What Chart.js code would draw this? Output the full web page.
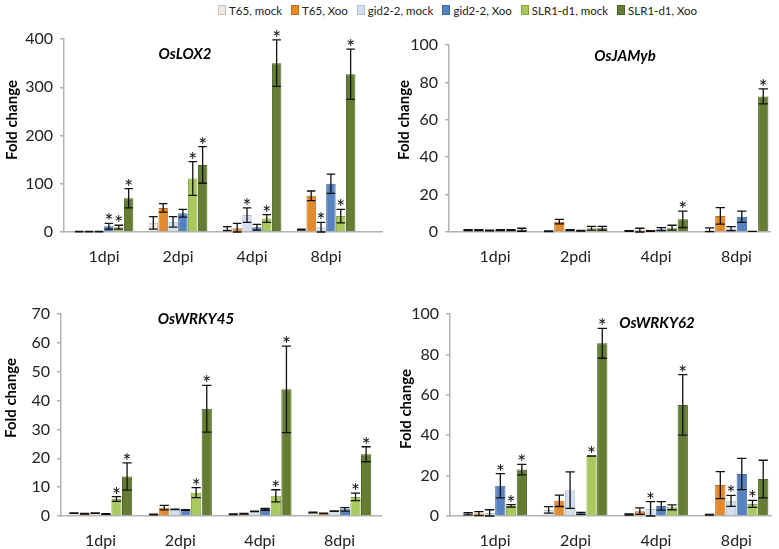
<!DOCTYPE html>
<html><head><meta charset="utf-8">
<script src="https://cdn.jsdelivr.net/npm/chart.js@4.4.1/dist/chart.umd.min.js"></script>
<style>
html,body{margin:0;padding:0;background:#fff;width:779px;height:549px;overflow:hidden;font-family:Lato,sans-serif;}
canvas{position:absolute;}
.title{position:absolute;font:italic bold 15px Lato;transform:translate(-50%,-50%);white-space:nowrap;color:#000;}
.ylab{position:absolute;font:bold 15px Lato;transform:translate(-50%,-50%) rotate(-90deg);white-space:nowrap;color:#000;}
#legend{position:absolute;top:2px;left:218px;display:flex;gap:9px;font:11.5px Lato;color:#222;align-items:center;height:16px;white-space:nowrap;}
.item{display:flex;align-items:center;}
.sw{width:6px;height:8px;margin-right:3px;border:1px solid;}
</style></head><body>
<div id="legend"></div>
<canvas id="c1" width="390" height="275" style="left:0;top:0"></canvas>
<canvas id="c2" width="389" height="275" style="left:390px;top:0"></canvas>
<canvas id="c3" width="390" height="274" style="left:0;top:275px"></canvas>
<canvas id="c4" width="389" height="274" style="left:390px;top:275px"></canvas>
<div class="title" style="left:185px;top:53px">OsLOX2</div>
<div class="title" style="left:625px;top:55px">OsJAMyb</div>
<div class="title" style="left:196px;top:318px">OsWRKY45</div>
<div class="title" style="left:657px;top:322px">OsWRKY62</div>
<div class="ylab" style="left:11px;top:120px">Fold change</div>
<div class="ylab" style="left:403px;top:120px">Fold change</div>
<div class="ylab" style="left:10px;top:398px">Fold change</div>
<div class="ylab" style="left:405px;top:409px">Fold change</div>
<script>
// ---------- data ----------
const seriesNames = ['T65, mock','T65, Xoo','gid2-2, mock','gid2-2, Xoo','SLR1-d1, mock','SLR1-d1, Xoo'];
const daysA = ['1dpi','2dpi','4dpi','8dpi'];
const daysB = ['1dpi','2pdi','4dpi','8dpi'];

// rows = series (in seriesNames order), columns = days
const lox2Mean = [
  [1, 19, 7, 5],
  [1, 50, 8, 75],
  [1, 21, 35, 10],
  [12, 39, 10, 100],
  [10, 111, 28, 33],
  [70, 139, 350, 327]
];
const lox2Err = [
  [0.5, 13, 4, 1],
  [0.5, 9, 10, 10],
  [0.5, 11, 15, 10],
  [6, 8, 6, 20],
  [4, 35, 8, 14],
  [20, 38, 48, 52]
];
const lox2Sig = [
  [0,0,0,0],[0,0,0,0],[0,0,1,1],[1,0,0,0],[1,1,1,1],[1,1,1,1]
];

const jamybMean = [
  [1, 0.4, 0.5, 1.2],
  [1, 5.5, 1, 8.6],
  [0.8, 1, 0.5, 1.8],
  [1, 0.7, 1.5, 8.2],
  [1, 2, 2.3, 0.3],
  [1.2, 2, 6.8, 72.5]
];
const jamybErr = [
  [0.2, 0.2, 0.2, 1],
  [0.2, 1.2, 1, 4.4],
  [0.2, 0.2, 0.2, 1.1],
  [0.2, 0.2, 0.8, 3],
  [0.2, 1, 1.3, 0],
  [0.8, 1, 4.4, 4]
];
const jamybSig = [
  [0,0,0,0],[0,0,0,0],[0,0,0,0],[0,0,0,0],[0,0,0,0],[0,0,1,1]
];

const wrky45Mean = [
  [1.0, 0.5, 0.6, 1.2],
  [0.8, 2.9, 0.8, 0.9],
  [1.0, 2.3, 1.6, 1.7],
  [0.7, 2.1, 2.3, 2.3],
  [5.9, 8.1, 7.0, 6.6],
  [13.7, 37.2, 43.9, 21.4]
];
const wrky45Err = [
  [0.1, 0.1, 0.1, 0.1],
  [0.1, 0.8, 0.1, 0.1],
  [0.1, 0.1, 0.1, 0.1],
  [0.1, 0.1, 0.3, 0.6],
  [0.8, 1.7, 2.1, 1.3],
  [4.7, 8.1, 15, 2.6]
];
const wrky45Sig = [
  [0,0,0,0],[0,0,0,0],[0,0,0,0],[0,0,0,0],[1,1,1,1],[1,1,1,1]
];

const wrky62Mean = [
  [1.1, 3.0, 0.8, 0.6],
  [1.2, 7.5, 2.4, 15.3],
  [1.5, 12.8, 3.5, 7.5],
  [15.0, 1.3, 5.0, 20.8],
  [5.0, 29.7, 4.3, 6.0],
  [23.0, 85.5, 55.0, 18.3]
];
const wrky62Err = [
  [0.5, 1.6, 0.3, 0.2],
  [1.0, 2.8, 1.6, 6.7],
  [1.6, 9.0, 3.6, 2.7],
  [6.0, 0.5, 2.1, 7.7],
  [0.6, 0.1, 1.2, 1.7],
  [2.6, 7.4, 15.0, 9.3]
];
const wrky62Sig = [
  [0,0,0,0],[0,0,0,0],[0,0,1,1],[1,0,0,0],[1,1,0,1],[1,1,1,0]
];

// ---------- styles ----------
const fills   = ['#eee9e4','#e38b2b','#d4dfee','#5682bf','#a9c95c','#647d32'];
const borders = ['#c9c0b8','#c06d1a','#aebfd8','#3d659f','#88a840','#4b6022'];

Chart.defaults.font.family = 'Lato, sans-serif';
Chart.defaults.color = '#222';

const errPlugin = {
  id: 'errbars',
  afterDatasetsDraw(chart) {
    const ctx = chart.ctx, ys = chart.scales.y;
    chart.data.datasets.forEach((ds, i) => {
      const meta = chart.getDatasetMeta(i);
      meta.data.forEach((bar, j) => {
        const m = ds.data[j].y, e = ds.errors[j];
        const top = ys.getPixelForValue(m + e);
        const bot = ys.getPixelForValue(Math.max(0, m - e));
        const cw = bar.width * 0.45;
        ctx.save();
        ctx.strokeStyle = '#111';
        ctx.lineWidth = 1.3;
        ctx.beginPath();
        ctx.moveTo(bar.x, top); ctx.lineTo(bar.x, bot);
        ctx.moveTo(bar.x - cw, top); ctx.lineTo(bar.x + cw, top);
        ctx.moveTo(bar.x - cw, bot); ctx.lineTo(bar.x + cw, bot);
        ctx.stroke();
        if (ds.sig[j]) {
          ctx.fillStyle = '#111';
          ctx.font = '21px Lato';
          ctx.textAlign = 'center';
          ctx.textBaseline = 'alphabetic';
          ctx.fillText('*', bar.x, top + 6);
        }
        ctx.restore();
      });
    });
  }
};

function makeChart(cfg) {
  const datasets = seriesNames.map((name, s) => ({
    label: name,
    data: cfg.mean[s].map((v, i) => ({x: i, y: v})),
    errors: cfg.err[s],
    sig: cfg.sig[s],
    backgroundColor: fills[s],
    borderColor: borders[s],
    borderWidth: 1,
    categoryPercentage: 0.8,
    barPercentage: 0.96
  }));
  new Chart(document.getElementById(cfg.id), {
    type: 'bar',
    data: {datasets},
    plugins: [errPlugin],
    options: {
      responsive: false,
      animation: false,
      layout: {padding: {top: cfg.top, right: cfg.right, left: 0, bottom: 0}},
      plugins: {legend: {display: false}, tooltip: {enabled: false}, title: {display: false}},
      scales: {
        x: {
          type: 'linear',
          offset: false,
          bounds: 'data',
          min: cfg.xMin, max: cfg.xMax,
          afterFit: s => { s.height = cfg.xH; },
          afterBuildTicks: s => { s.ticks = cfg.cats.map((c, i) => ({value: i})); },
          ticks: {callback: v => cfg.cats[v], autoSkip: false, maxRotation: 0, padding: 15, font: {size: 16}, color: '#222'},
          grid: {display: false, drawTicks: false, offset: false},
          border: {display: true, color: '#b3b3b3', width: 1.5}
        },
        y: {
          min: 0, max: cfg.yMax,
          afterFit: s => { s.width = cfg.yW; },
          ticks: {stepSize: cfg.yStep, padding: 7, font: {size: 16}, color: '#222'},
          grid: {drawOnChartArea: false, drawTicks: true, tickLength: 4, color: '#b3b3b3', lineWidth: 1.5},
          border: {display: true, color: '#b3b3b3', width: 1.5}
        }
      }
    }
  });
}

makeChart({id:'c1', cats:daysA, mean:lox2Mean, err:lox2Err, sig:lox2Sig, yMax:400, yStep:100, xMin:-0.54, xMax:3.757, top:39, right:8, yW:64, xH:43});
makeChart({id:'c2', cats:daysB, mean:jamybMean, err:jamybErr, sig:jamybSig, yMax:100, yStep:20, xMin:-0.571, xMax:3.417, top:45, right:9, yW:59, xH:43});
makeChart({id:'c3', cats:daysA, mean:wrky45Mean, err:wrky45Err, sig:wrky45Sig, yMax:70, yStep:10, xMin:-0.496, xMax:3.52, top:39, right:9, yW:61, xH:33});
makeChart({id:'c4', cats:daysA, mean:wrky62Mean, err:wrky62Err, sig:wrky62Sig, yMax:100, yStep:20, xMin:-0.559, xMax:3.43, top:39, right:8, yW:60, xH:33});

// legend
const lg = document.getElementById('legend');
seriesNames.forEach((n, s) => {
  const it = document.createElement('div'); it.className = 'item';
  const sw = document.createElement('span'); sw.className = 'sw';
  sw.style.background = fills[s]; sw.style.borderColor = borders[s];
  const tx = document.createElement('span'); tx.textContent = n;
  it.appendChild(sw); it.appendChild(tx); lg.appendChild(it);
});
</script>
</body></html>
